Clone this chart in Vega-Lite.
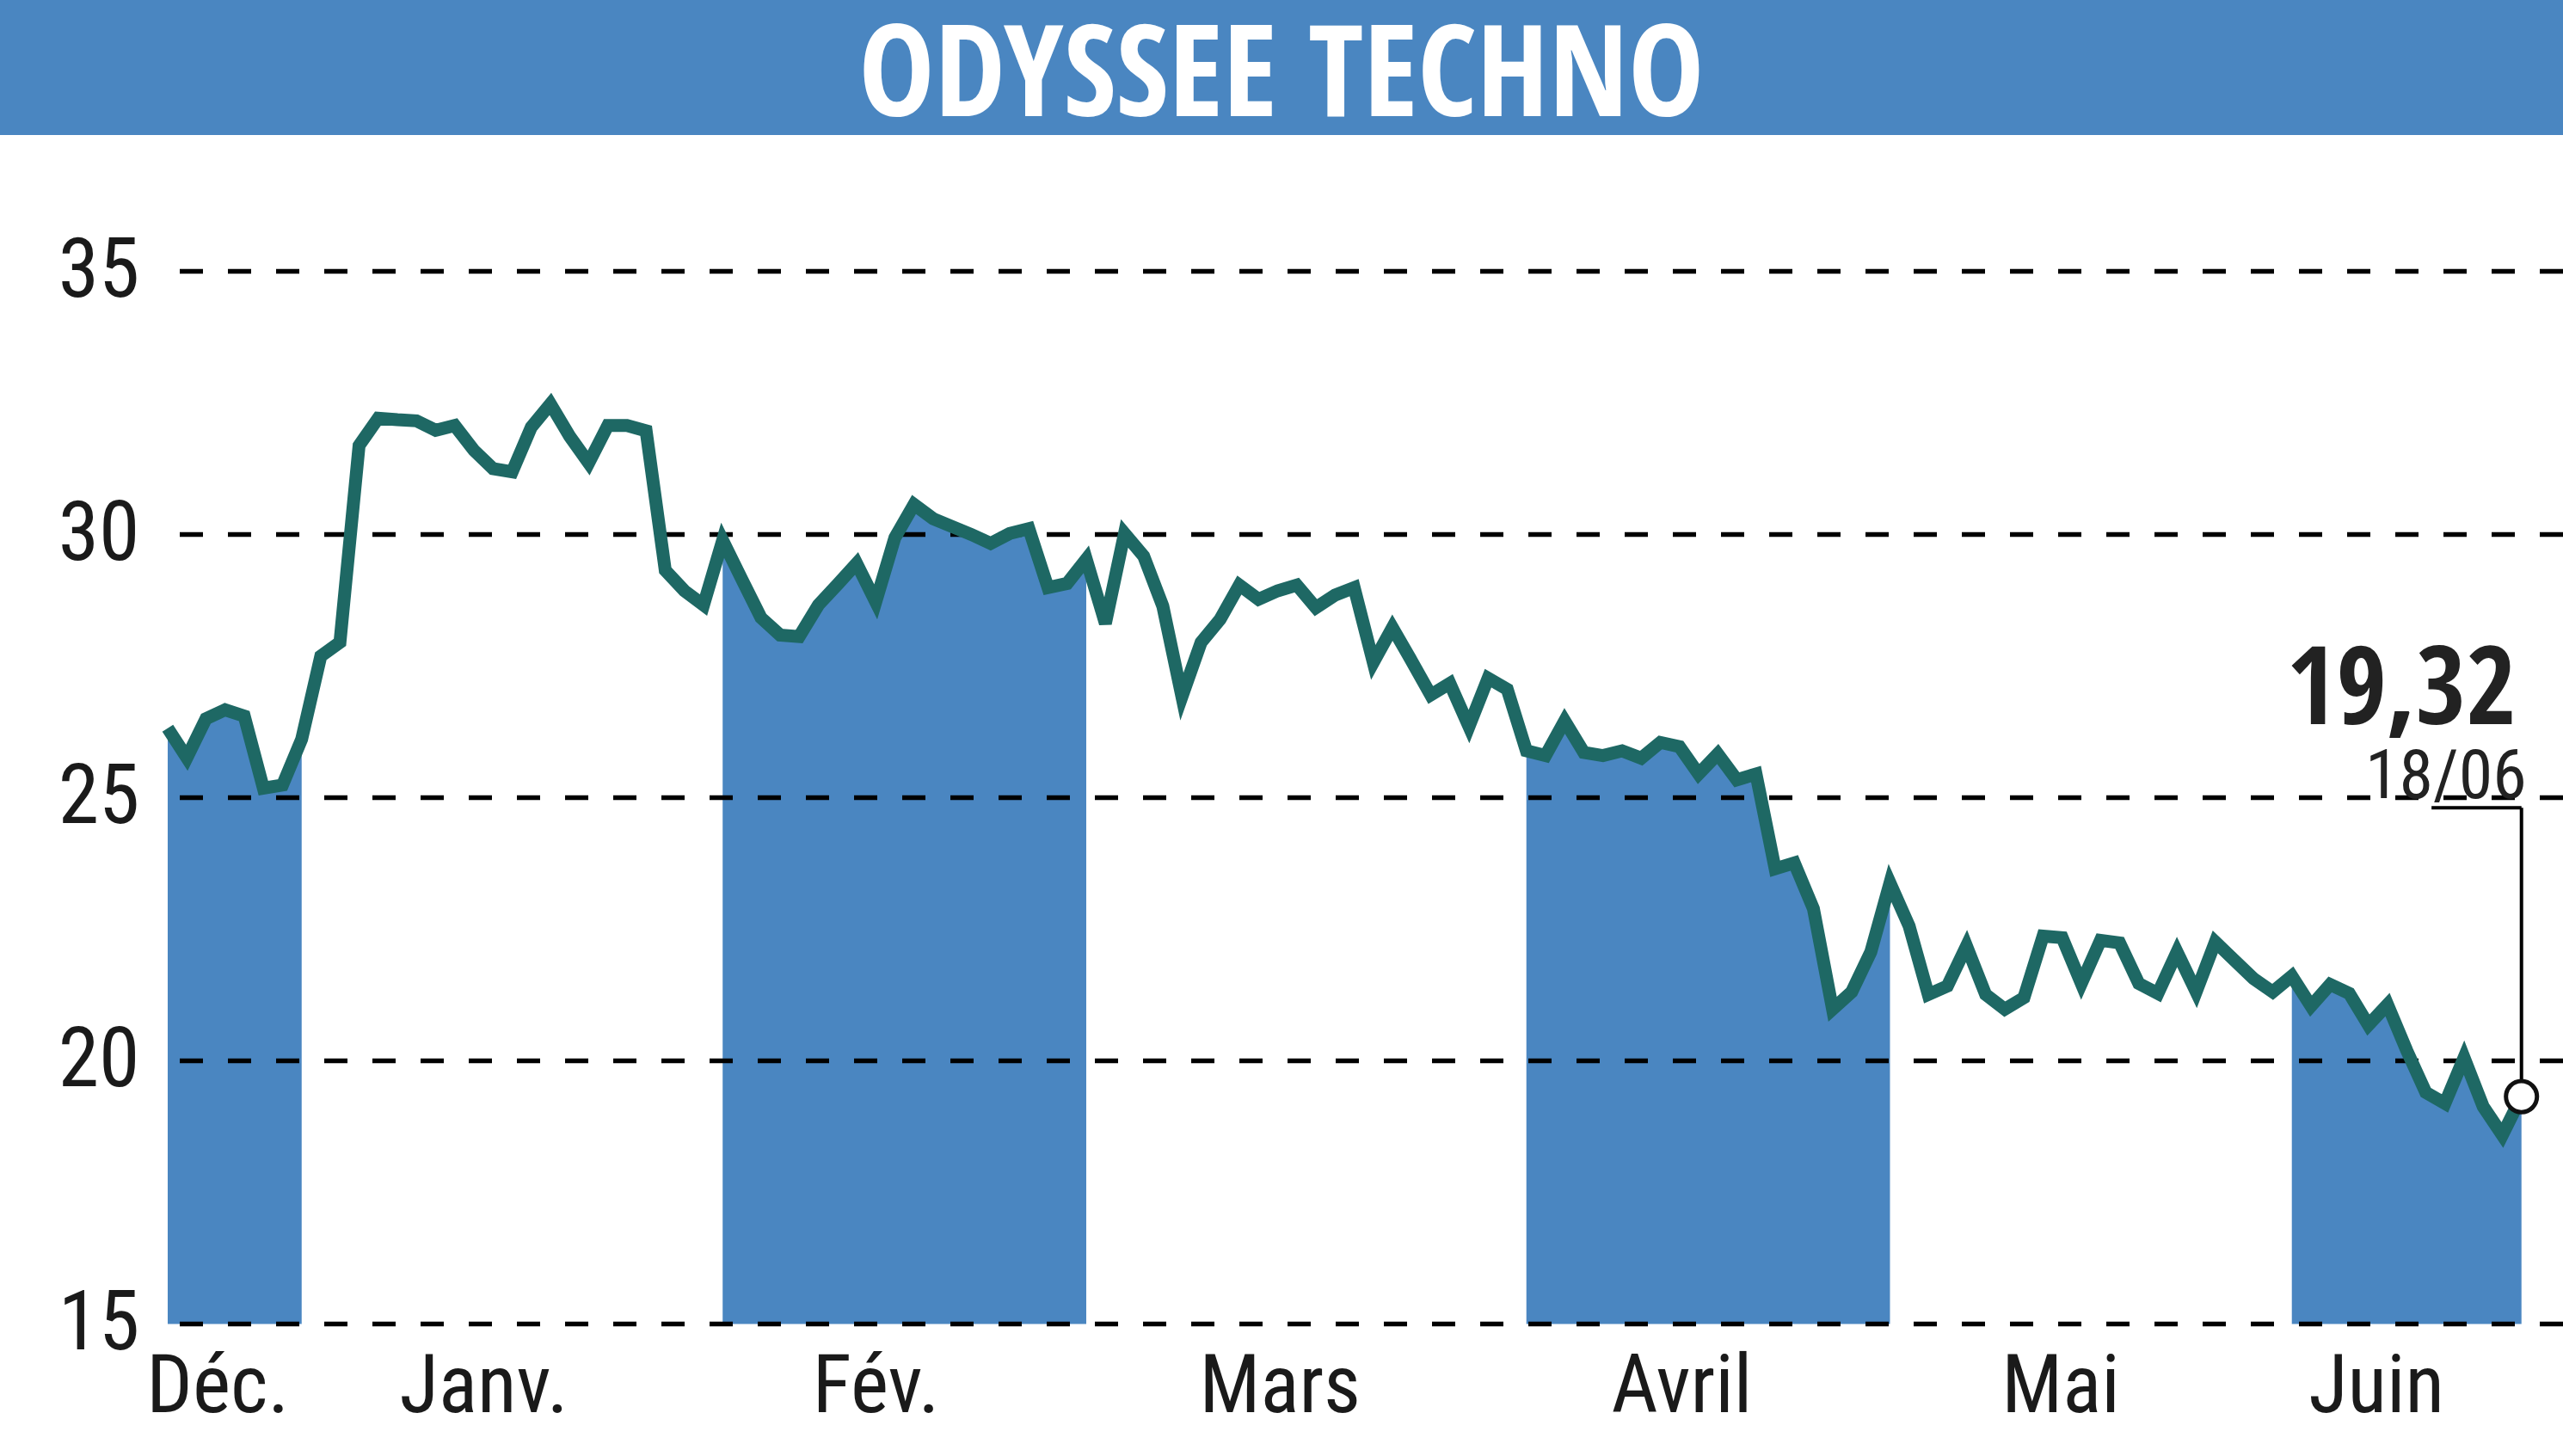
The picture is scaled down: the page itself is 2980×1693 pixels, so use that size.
{
  "$schema": "https://vega.github.io/schema/vega-lite/v6.json",
  "width": 2796,
  "height": 1224,
  "autosize": {"type": "none"},
  "padding": {"left": 184, "top": 315.5, "right": 0, "bottom": 153.5},
  "background": "white",
  "config": {
    "view": {"stroke": null},
    "locale": {"number": {"decimal": ",", "thousands": " ", "grouping": [3], "currency": ["", " €"]}}
  },
  "datasets": {
    "cours": [
      {"i": 0, "mois": "Déc.", "cours": 26.32}, {"i": 1, "mois": "Déc.", "cours": 25.76}, {"i": 2, "mois": "Déc.", "cours": 26.50}, {"i": 3, "mois": "Déc.", "cours": 26.67},
      {"i": 4, "mois": "Déc.", "cours": 26.55}, {"i": 5, "mois": "Déc.", "cours": 25.18}, {"i": 6, "mois": "Déc.", "cours": 25.24}, {"i": 7, "mois": "Déc.", "cours": 26.11},
      {"i": 8, "mois": "Janv.", "cours": 27.69}, {"i": 9, "mois": "Janv.", "cours": 27.95}, {"i": 10, "mois": "Janv.", "cours": 31.69}, {"i": 11, "mois": "Janv.", "cours": 32.21},
      {"i": 12, "mois": "Janv.", "cours": 32.18}, {"i": 13, "mois": "Janv.", "cours": 32.16}, {"i": 14, "mois": "Janv.", "cours": 31.98}, {"i": 15, "mois": "Janv.", "cours": 32.07},
      {"i": 16, "mois": "Janv.", "cours": 31.60}, {"i": 17, "mois": "Janv.", "cours": 31.25}, {"i": 18, "mois": "Janv.", "cours": 31.19}, {"i": 19, "mois": "Janv.", "cours": 32.04},
      {"i": 20, "mois": "Janv.", "cours": 32.48}, {"i": 21, "mois": "Janv.", "cours": 31.87}, {"i": 22, "mois": "Janv.", "cours": 31.36}, {"i": 23, "mois": "Janv.", "cours": 32.07},
      {"i": 24, "mois": "Janv.", "cours": 32.07}, {"i": 25, "mois": "Janv.", "cours": 31.97}, {"i": 26, "mois": "Janv.", "cours": 29.32}, {"i": 27, "mois": "Janv.", "cours": 28.93},
      {"i": 28, "mois": "Janv.", "cours": 28.66},
      {"i": 29, "mois": "Fév.", "cours": 29.89}, {"i": 30, "mois": "Fév.", "cours": 29.15}, {"i": 31, "mois": "Fév.", "cours": 28.42}, {"i": 32, "mois": "Fév.", "cours": 28.09},
      {"i": 33, "mois": "Fév.", "cours": 28.06}, {"i": 34, "mois": "Fév.", "cours": 28.66}, {"i": 35, "mois": "Fév.", "cours": 29.05}, {"i": 36, "mois": "Fév.", "cours": 29.45},
      {"i": 37, "mois": "Fév.", "cours": 28.72}, {"i": 38, "mois": "Fév.", "cours": 29.94}, {"i": 39, "mois": "Fév.", "cours": 30.57}, {"i": 40, "mois": "Fév.", "cours": 30.30},
      {"i": 41, "mois": "Fév.", "cours": 30.15}, {"i": 42, "mois": "Fév.", "cours": 30.00}, {"i": 43, "mois": "Fév.", "cours": 29.83}, {"i": 44, "mois": "Fév.", "cours": 30.02},
      {"i": 45, "mois": "Fév.", "cours": 30.11}, {"i": 46, "mois": "Fév.", "cours": 28.99}, {"i": 47, "mois": "Fév.", "cours": 29.07}, {"i": 48, "mois": "Fév.", "cours": 29.53},
      {"i": 49, "mois": "Mars", "cours": 28.31}, {"i": 50, "mois": "Mars", "cours": 30.02}, {"i": 51, "mois": "Mars", "cours": 29.59}, {"i": 52, "mois": "Mars", "cours": 28.64},
      {"i": 53, "mois": "Mars", "cours": 26.92}, {"i": 54, "mois": "Mars", "cours": 27.95}, {"i": 55, "mois": "Mars", "cours": 28.39}, {"i": 56, "mois": "Mars", "cours": 29.04},
      {"i": 57, "mois": "Mars", "cours": 28.77}, {"i": 58, "mois": "Mars", "cours": 28.93}, {"i": 59, "mois": "Mars", "cours": 29.04}, {"i": 60, "mois": "Mars", "cours": 28.61},
      {"i": 61, "mois": "Mars", "cours": 28.85}, {"i": 62, "mois": "Mars", "cours": 28.99}, {"i": 63, "mois": "Mars", "cours": 27.57}, {"i": 64, "mois": "Mars", "cours": 28.23},
      {"i": 65, "mois": "Mars", "cours": 27.60}, {"i": 66, "mois": "Mars", "cours": 26.95}, {"i": 67, "mois": "Mars", "cours": 27.17}, {"i": 68, "mois": "Mars", "cours": 26.35},
      {"i": 69, "mois": "Mars", "cours": 27.27}, {"i": 70, "mois": "Mars", "cours": 27.06},
      {"i": 71, "mois": "Avril", "cours": 25.89}, {"i": 72, "mois": "Avril", "cours": 25.80}, {"i": 73, "mois": "Avril", "cours": 26.46}, {"i": 74, "mois": "Avril", "cours": 25.86},
      {"i": 75, "mois": "Avril", "cours": 25.80}, {"i": 76, "mois": "Avril", "cours": 25.89}, {"i": 77, "mois": "Avril", "cours": 25.75}, {"i": 78, "mois": "Avril", "cours": 26.05},
      {"i": 79, "mois": "Avril", "cours": 25.97}, {"i": 80, "mois": "Avril", "cours": 25.45}, {"i": 81, "mois": "Avril", "cours": 25.83}, {"i": 82, "mois": "Avril", "cours": 25.34},
      {"i": 83, "mois": "Avril", "cours": 25.45}, {"i": 84, "mois": "Avril", "cours": 23.65}, {"i": 85, "mois": "Avril", "cours": 23.76}, {"i": 86, "mois": "Avril", "cours": 22.89},
      {"i": 87, "mois": "Avril", "cours": 20.98}, {"i": 88, "mois": "Avril", "cours": 21.31}, {"i": 89, "mois": "Avril", "cours": 22.07}, {"i": 90, "mois": "Avril", "cours": 23.38},
      {"i": 91, "mois": "Mai", "cours": 22.56}, {"i": 92, "mois": "Mai", "cours": 21.26}, {"i": 93, "mois": "Mai", "cours": 21.42}, {"i": 94, "mois": "Mai", "cours": 22.18},
      {"i": 95, "mois": "Mai", "cours": 21.26}, {"i": 96, "mois": "Mai", "cours": 20.98}, {"i": 97, "mois": "Mai", "cours": 21.20}, {"i": 98, "mois": "Mai", "cours": 22.37},
      {"i": 99, "mois": "Mai", "cours": 22.34}, {"i": 100, "mois": "Mai", "cours": 21.47}, {"i": 101, "mois": "Mai", "cours": 22.29}, {"i": 102, "mois": "Mai", "cours": 22.24},
      {"i": 103, "mois": "Mai", "cours": 21.47}, {"i": 104, "mois": "Mai", "cours": 21.28}, {"i": 105, "mois": "Mai", "cours": 22.07}, {"i": 106, "mois": "Mai", "cours": 21.31},
      {"i": 107, "mois": "Mai", "cours": 22.26}, {"i": 108, "mois": "Mai", "cours": 21.91}, {"i": 109, "mois": "Mai", "cours": 21.56}, {"i": 110, "mois": "Mai", "cours": 21.31},
      {"i": 111, "mois": "Juin", "cours": 21.61}, {"i": 112, "mois": "Juin", "cours": 21.04}, {"i": 113, "mois": "Juin", "cours": 21.45}, {"i": 114, "mois": "Juin", "cours": 21.28},
      {"i": 115, "mois": "Juin", "cours": 20.68}, {"i": 116, "mois": "Juin", "cours": 21.07}, {"i": 117, "mois": "Juin", "cours": 20.20}, {"i": 118, "mois": "Juin", "cours": 19.40},
      {"i": 119, "mois": "Juin", "cours": 19.19}, {"i": 120, "mois": "Juin", "cours": 20.06}, {"i": 121, "mois": "Juin", "cours": 19.13}, {"i": 122, "mois": "Juin", "cours": 18.59},
      {"i": 123, "mois": "Juin", "cours": 19.32, "date": "18/06"}
    ]
  },
  "layer": [
    {
      "data": {"values": [{"titre": "ODYSSEE TECHNO"}]},
      "mark": {"type": "rect", "color": "#4A86C1"},
      "encoding": {
        "x": {"datum": -10, "type": "quantitative"},
        "x2": {"datum": 135},
        "y": {"datum": 37.59, "type": "quantitative"},
        "y2": {"datum": 43}
      }
    },
    {
      "data": {"values": [{"titre": "ODYSSEE TECHNO"}]},
      "mark": {"type": "text", "font": "Open Sans Condensed, DejaVu Sans Condensed, sans-serif", "fontWeight": "bold", "fontSize": 148, "color": "white", "align": "center", "baseline": "alphabetic"},
      "encoding": {
        "x": {"datum": 58.2, "type": "quantitative"},
        "y": {"datum": 37.95, "type": "quantitative"},
        "text": {"field": "titre", "type": "nominal"}
      }
    },
    {
      "data": {"name": "cours"},
      "transform": [{"filter": {"field": "mois", "oneOf": ["Déc.", "Fév.", "Avril", "Juin"]}}],
      "mark": {"type": "area", "color": "#4A86C1", "opacity": 1},
      "encoding": {
        "x": {"field": "i", "type": "quantitative", "title": null},
        "y": {"field": "cours", "type": "quantitative", "title": null},
        "y2": {"datum": 15},
        "detail": {"field": "mois", "type": "nominal"}
      }
    },
    {
      "data": {"values": [{"niveau": 15}, {"niveau": 20}, {"niveau": 25}, {"niveau": 30}, {"niveau": 35}]},
      "mark": {"type": "rule", "color": "black", "strokeWidth": 5.5, "strokeDash": [27, 29], "strokeCap": "butt"},
      "encoding": {
        "y": {"field": "niveau", "type": "quantitative", "title": null}
      }
    },
    {
      "data": {"name": "cours"},
      "mark": {"type": "line", "color": "#1E6864", "strokeWidth": 15, "strokeJoin": "miter"},
      "encoding": {
        "x": {
          "field": "i", "type": "quantitative", "title": null,
          "scale": {"domain": [-0.494, 125.17], "nice": false, "zero": false},
          "axis": {
            "title": null, "orient": "bottom", "grid": false, "ticks": false, "domain": false,
            "values": [2.6, 16.5, 37.0, 58.1, 79.1, 98.9, 115.4],
            "labelExpr": "datum.value < 10 ? 'Déc.' : datum.value < 30 ? 'Janv.' : datum.value < 50 ? 'Fév.' : datum.value < 70 ? 'Mars' : datum.value < 90 ? 'Avril' : datum.value < 110 ? 'Mai' : 'Juin'",
            "labelFont": "Roboto Condensed, Open Sans Condensed, DejaVu Sans Condensed, sans-serif",
            "labelFontWeight": "normal",
            "labelFontSize": 94, "labelColor": "#1a1a1a", "labelPadding": 28, "labelLimit": 0,
            "labelAlign": "center", "labelFlush": false, "labelOverlap": false
          }
        },
        "y": {
          "field": "cours", "type": "quantitative", "title": null,
          "scale": {"domain": [15, 35], "nice": false, "zero": false},
          "axis": {
            "title": null, "grid": false, "ticks": false, "domain": false,
            "values": [15, 20, 25, 30, 35], "format": "d",
            "labelFont": "Roboto Condensed, Open Sans Condensed, DejaVu Sans Condensed, sans-serif",
            "labelFontWeight": "normal",
            "labelFontSize": 96, "labelColor": "#1a1a1a", "labelPadding": 22, "labelLimit": 0,
            "labelFlush": false, "labelOverlap": false
          }
        }
      }
    },
    {
      "data": {"name": "cours"},
      "transform": [{"filter": "datum.i == 123"}],
      "mark": {"type": "rule", "color": "black", "strokeWidth": 4},
      "encoding": {
        "x": {"field": "i", "type": "quantitative", "title": null},
        "y": {"field": "cours", "type": "quantitative", "title": null},
        "y2": {"datum": 24.81}
      }
    },
    {
      "data": {"name": "cours"},
      "transform": [{"filter": "datum.i == 123"}],
      "mark": {"type": "rule", "color": "black", "strokeWidth": 4},
      "encoding": {
        "x": {"field": "i", "type": "quantitative", "title": null},
        "x2": {"datum": 118.3},
        "y": {"datum": 24.81, "type": "quantitative"}
      }
    },
    {
      "data": {"name": "cours"},
      "transform": [{"filter": "datum.i == 123"}],
      "mark": {"type": "point", "shape": "circle", "filled": true, "fill": "white", "stroke": "#111111", "strokeWidth": 5, "size": 1300, "opacity": 1},
      "encoding": {
        "x": {"field": "i", "type": "quantitative", "title": null},
        "y": {"field": "cours", "type": "quantitative", "title": null}
      }
    },
    {
      "data": {"name": "cours"},
      "transform": [{"filter": "datum.i == 123"}],
      "mark": {"type": "text", "font": "Open Sans Condensed, DejaVu Sans Condensed, sans-serif", "fontWeight": "bold", "fontSize": 126, "color": "#222222", "align": "right", "baseline": "alphabetic", "dx": -6},
      "encoding": {
        "x": {"field": "i", "type": "quantitative", "title": null},
        "y": {"datum": 26.4, "type": "quantitative"},
        "text": {"field": "cours", "type": "quantitative", "format": ".2f"}
      }
    },
    {
      "data": {"name": "cours"},
      "transform": [{"filter": "datum.i == 123"}],
      "mark": {"type": "text", "font": "Roboto Condensed, Open Sans Condensed, DejaVu Sans Condensed, sans-serif", "fontWeight": "normal", "fontSize": 80, "color": "#222222", "align": "right", "baseline": "alphabetic", "dx": 6},
      "encoding": {
        "x": {"field": "i", "type": "quantitative", "title": null},
        "y": {"datum": 25.0, "type": "quantitative"},
        "text": {"field": "date", "type": "nominal"}
      }
    }
  ]
}
